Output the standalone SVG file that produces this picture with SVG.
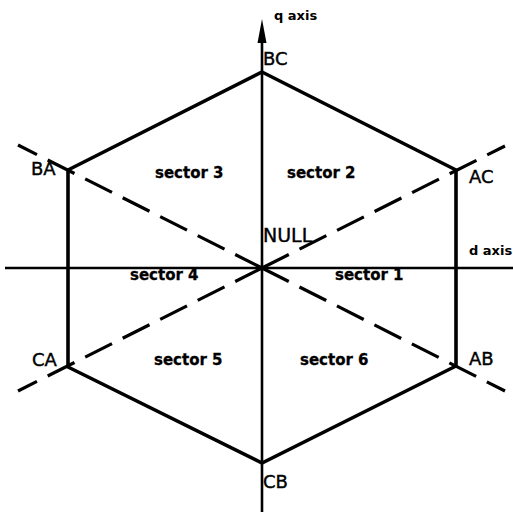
<svg xmlns="http://www.w3.org/2000/svg" width="513" height="512" viewBox="0 0 513 512">
<style>
.hex{fill:none;stroke:#000;stroke-width:3.6;stroke-linejoin:miter}
.axis{stroke:#000;stroke-width:2.6;fill:none}
.dash{stroke:#000;stroke-width:3.2;stroke-dasharray:30 12;fill:none}
.vl{font-family:"DejaVu Sans",Verdana,sans-serif;font-size:18px;fill:#000;stroke:#000;stroke-width:0.4}
.ax{font-family:"DejaVu Sans",Verdana,sans-serif;font-size:13px;font-weight:bold;fill:#000}
.sec{font-family:"DejaVu Sans",Verdana,sans-serif;font-size:15px;font-weight:bold;fill:#000;stroke:#000;stroke-width:0.3}
</style>
<rect width="513" height="512" fill="#fff"/>
<g id="connectors">
<polygon id="hexagon" class="hex" points="262,72 456,170 456,366 262,463 68,367 68,170"/>
<path class="dash" d="M262,268 L18,145"/>
<path class="dash" d="M262,268 L505,391"/>
<path class="dash" d="M262,268 L18,391"/>
<path class="dash" d="M262,268 L505,146"/>
<path class="axis" d="M5,268 L513,268"/>
<path class="axis" d="M262,38 L262,512"/>
<polygon points="262,19 257.5,43 266.5,43" fill="#000"/>
</g>
<g id="q-axis"><text class="ax" x="274" y="20">q axis</text></g>
<g id="d-axis"><text class="ax" x="469" y="255">d axis</text></g>
<g id="BC"><text class="vl" x="263" y="65">BC</text></g>
<g id="BA"><text class="vl" x="31" y="175">BA</text></g>
<g id="AC"><text class="vl" x="469" y="183">AC</text></g>
<g id="CA"><text class="vl" x="32" y="366">CA</text></g>
<g id="AB"><text class="vl" x="469" y="365">AB</text></g>
<g id="CB"><text class="vl" x="263" y="488">CB</text></g>
<g id="NULL"><text class="vl" x="263" y="242" style="font-size:19px">NULL</text></g>
<g id="sector1"><text class="sec" x="335" y="280">sector 1</text></g>
<g id="sector2"><text class="sec" x="287" y="178">sector 2</text></g>
<g id="sector3"><text class="sec" x="155" y="178">sector 3</text></g>
<g id="sector4"><text class="sec" x="130" y="280">sector 4</text></g>
<g id="sector5"><text class="sec" x="154" y="365">sector 5</text></g>
<g id="sector6"><text class="sec" x="300" y="365">sector 6</text></g>
</svg>
